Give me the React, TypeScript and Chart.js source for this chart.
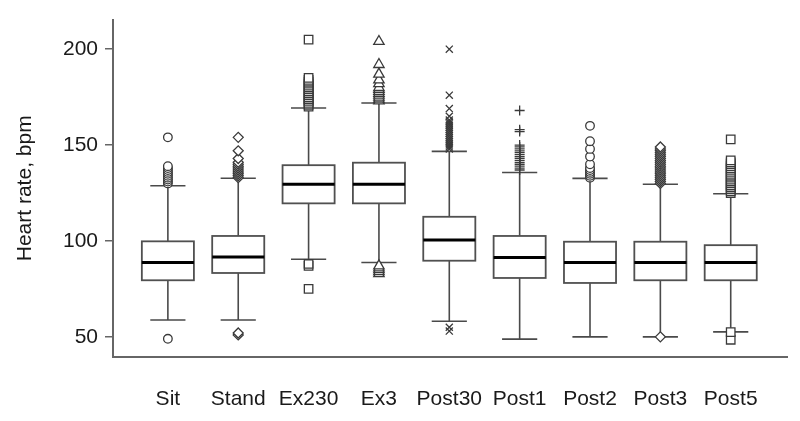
import React, { useEffect, useRef } from "react";
import { Chart, registerables } from "chart.js";

Chart.register(...registerables);

const categories = ["Sit", "Stand", "Ex230", "Ex3", "Post30", "Post1", "Post2", "Post3", "Post5"];
const q1 = [79.5, 83.3, 119.6, 119.6, 89.7, 80.7, 78.1, 79.5, 79.5];
const medians = [88.8, 91.6, 129.6, 129.6, 100.5, 91.4, 88.8, 88.8, 88.8];
const q3 = [99.8, 102.6, 139.5, 140.8, 112.6, 102.6, 99.6, 99.6, 97.8];
const whiskerLow = [58.8, 58.8, 90.5, 88.8, 58.1, 48.8, 50, 50, 52.6];
const whiskerHigh = [128.8, 132.7, 169.3, 171.9, 146.7, 135.7, 132.6, 129.6, 124.6];

const outSit = [49, 130, 131, 132, 133, 134, 135, 136, 137, 138, 139, 154];
const outStand = [51, 52, 133, 134, 135, 136, 137, 138, 139, 140, 141, 143, 147, 154];
const outEx230 = [75, 87, 88, 170, 171, 172, 173, 174, 175, 176, 177, 178, 179, 180, 181, 182, 183, 184, 185, 205];
const outEx3 = [83, 84, 85, 86, 87, 173, 174, 175, 176, 177, 178, 179, 180, 182, 184, 187, 192, 204];
const outPost30 = [53, 55, 148, 149, 150, 151, 152, 153, 154, 155, 156, 157, 158, 159, 160, 161, 162, 163, 165, 169, 176, 200];
const outPost1 = [137, 138, 139, 140, 141, 142, 143, 144, 145, 146, 147, 148, 149, 150, 157, 158, 168];
const outPost2 = [133, 134, 135, 136, 137, 138, 140, 144, 148, 152, 160];
const outPost3 = [50, 130, 131, 132, 133, 134, 135, 136, 137, 138, 139, 140, 141, 142, 143, 144, 145, 146, 147, 148, 149];
const outPost5 = [48.5, 52.5, 125, 126, 127, 128, 129, 130, 131, 132, 133, 134, 135, 136, 137, 138, 139, 140, 141, 142, 153];

const outliers = [outSit, outStand, outEx230, outEx3, outPost30, outPost1, outPost2, outPost3, outPost5];
const markerStyles = ["circle", "rectRot", "rect", "triangle", "crossRot", "cross", "circle", "rectRot", "rect"];
const markerRadius = [4.3, 5, 6, 6, 5, 5, 4.3, 5, 6];
const yTicks = [50, 100, 150, 200];

const FONT = "'Liberation Sans', Arial, sans-serif";

const boxPlugin = {
  id: "boxes",
  beforeDatasetsDraw(chart: any) {
    const ctx = chart.ctx;
    const xs = chart.scales.x;
    const ys = chart.scales.y;
    ctx.save();
    categories.forEach((_, i) => {
      const cx = xs.getPixelForValue(i);
      const hb = xs.getPixelForValue(i + 0.37) - cx;
      const hc = xs.getPixelForValue(i + 0.25) - cx;
      const yQ1 = ys.getPixelForValue(q1[i]);
      const yQ3 = ys.getPixelForValue(q3[i]);
      const yMed = ys.getPixelForValue(medians[i]);
      const yLo = ys.getPixelForValue(whiskerLow[i]);
      const yHi = ys.getPixelForValue(whiskerHigh[i]);
      ctx.strokeStyle = "#4a4a4a";
      ctx.lineWidth = 1.6;
      ctx.beginPath();
      ctx.moveTo(cx, yQ3);
      ctx.lineTo(cx, yHi);
      ctx.moveTo(cx, yQ1);
      ctx.lineTo(cx, yLo);
      ctx.moveTo(cx - hc, yHi);
      ctx.lineTo(cx + hc, yHi);
      ctx.moveTo(cx - hc, yLo);
      ctx.lineTo(cx + hc, yLo);
      ctx.stroke();
      ctx.fillStyle = "#ffffff";
      ctx.fillRect(cx - hb, yQ3, hb * 2, yQ1 - yQ3);
      ctx.strokeStyle = "#505050";
      ctx.lineWidth = 1.8;
      ctx.strokeRect(cx - hb, yQ3, hb * 2, yQ1 - yQ3);
      ctx.strokeStyle = "#000000";
      ctx.lineWidth = 3;
      ctx.beginPath();
      ctx.moveTo(cx - hb, yMed);
      ctx.lineTo(cx + hb, yMed);
      ctx.stroke();
    });
    ctx.restore();
  },
};

export default function App() {
  const ref = useRef<HTMLCanvasElement>(null);
  useEffect(() => {
    if (!ref.current) return;
    const datasets = outliers.map((arr, i) => ({
      type: "scatter" as const,
      label: categories[i],
      data: arr.map((v) => ({ x: i, y: v })),
      pointStyle: markerStyles[i],
      pointRadius: markerRadius[i],
      pointBorderColor: "#3a3a3a",
      pointBackgroundColor: "#ffffff",
      pointBorderWidth: 1.3,
    }));
    const chart = new Chart(ref.current, {
      type: "scatter",
      data: { datasets },
      plugins: [boxPlugin],
      options: {
        animation: false,
        responsive: false,
        layout: { padding: { top: 17, right: 13, left: 0, bottom: 0 } },
        plugins: { legend: { display: false }, tooltip: { enabled: false } },
        scales: {
          x: {
            type: "linear",
            min: -0.78,
            max: 8.8,
            grid: { display: false, drawTicks: false },
            border: { display: true, color: "#666666", width: 2 },
            afterBuildTicks: (s: any) => {
              s.ticks = categories.map((_, i) => ({ value: i }));
            },
            afterFit: (s: any) => {
              s.height = 64;
            },
            ticks: {
              autoSkip: false,
              maxRotation: 0,
              padding: 30,
              color: "#1a1a1a",
              font: { family: FONT, size: 21 },
              callback: (v: any) => categories[Math.round(Number(v))] ?? "",
            },
          },
          y: {
            type: "linear",
            min: 39.5,
            max: 215.4,
            grid: { drawOnChartArea: false, drawTicks: true, tickLength: 8, color: "#666666", lineWidth: 1.5 },
            border: { display: true, color: "#666666", width: 2 },
            afterBuildTicks: (s: any) => {
              s.ticks = yTicks.map((v) => ({ value: v }));
            },
            afterFit: (s: any) => {
              s.width = 113;
            },
            ticks: {
              padding: 7,
              color: "#1a1a1a",
              font: { family: FONT, size: 21 },
            },
            title: {
              display: true,
              text: "Heart rate, bpm",
              color: "#1a1a1a",
              font: { family: FONT, size: 21 },
              padding: { top: 13, bottom: 0 },
            },
          },
        },
      },
    });
    return () => chart.destroy();
  }, []);
  return (
    <div style={{ position: "absolute", left: 0, top: 0, width: 800, height: 421, background: "#fff" }}>
      <canvas ref={ref} width={800} height={421} style={{ width: 800, height: 421 }} />
    </div>
  );
}
